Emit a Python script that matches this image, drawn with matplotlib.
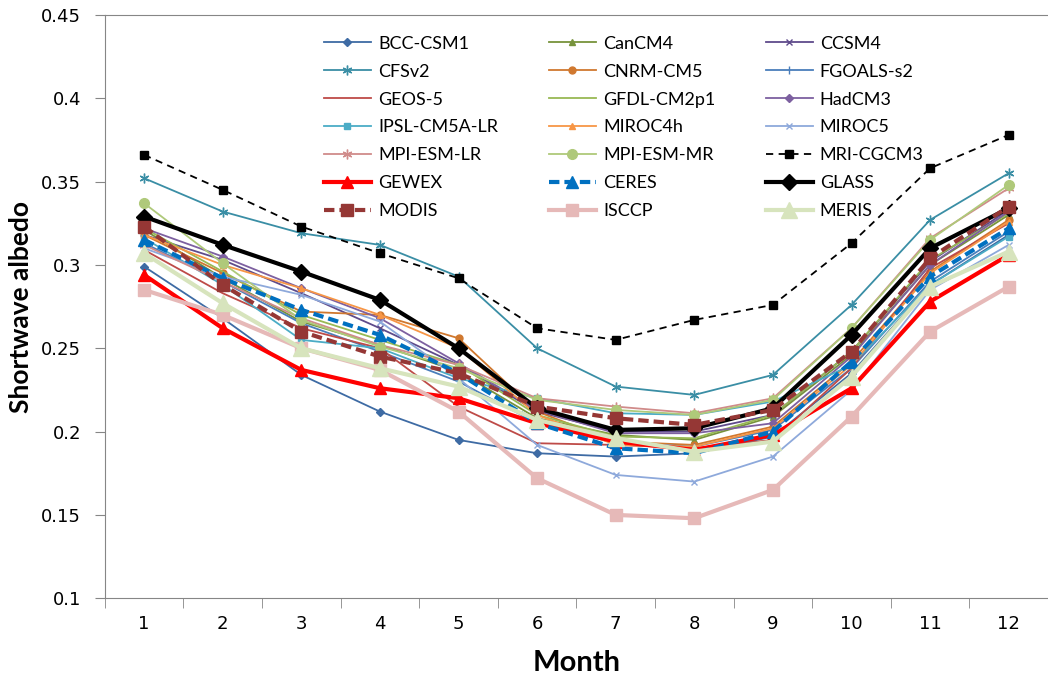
import matplotlib.pyplot as plt
from matplotlib.ticker import FixedLocator, NullFormatter

plt.rcParams["font.family"] = ["Lato", "DejaVu Sans"]

months = list(range(1, 13))

# monthly mean shortwave albedo, models first, then observation products
bcc_csm1 = [0.299, 0.268, 0.234, 0.212, 0.195, 0.187, 0.185, 0.187, 0.197, 0.235, 0.288, 0.318]
cancm4 = [0.321, 0.292, 0.266, 0.252, 0.236, 0.208, 0.198, 0.195, 0.209, 0.246, 0.300, 0.330]
ccsm4 = [0.318, 0.303, 0.283, 0.262, 0.240, 0.212, 0.200, 0.200, 0.210, 0.248, 0.302, 0.333]
cfsv2 = [0.352, 0.332, 0.319, 0.312, 0.293, 0.250, 0.227, 0.222, 0.234, 0.276, 0.327, 0.355]
cnrm_cm5 = [0.318, 0.295, 0.272, 0.270, 0.256, 0.212, 0.194, 0.192, 0.203, 0.242, 0.296, 0.327]
fgoals_s2 = [0.313, 0.290, 0.265, 0.248, 0.230, 0.205, 0.193, 0.191, 0.201, 0.238, 0.290, 0.320]
geos_5 = [0.309, 0.283, 0.262, 0.250, 0.215, 0.193, 0.192, 0.190, 0.195, 0.238, 0.298, 0.325]
gfdl_cm2p1 = [0.322, 0.296, 0.270, 0.255, 0.240, 0.210, 0.197, 0.196, 0.210, 0.248, 0.303, 0.331]
hadcm3 = [0.322, 0.305, 0.286, 0.268, 0.241, 0.213, 0.199, 0.199, 0.205, 0.245, 0.300, 0.332]
ipsl_cm5a_lr = [0.316, 0.288, 0.255, 0.250, 0.232, 0.220, 0.211, 0.210, 0.218, 0.240, 0.288, 0.317]
miroc4h = [0.318, 0.300, 0.286, 0.270, 0.250, 0.210, 0.192, 0.191, 0.202, 0.240, 0.295, 0.326]
miroc5 = [0.310, 0.293, 0.282, 0.266, 0.232, 0.192, 0.174, 0.170, 0.185, 0.225, 0.285, 0.312]
mpi_esm_lr = [0.312, 0.290, 0.268, 0.252, 0.240, 0.220, 0.215, 0.211, 0.220, 0.262, 0.316, 0.346]
mpi_esm_mr = [0.337, 0.301, 0.267, 0.251, 0.238, 0.219, 0.213, 0.210, 0.219, 0.262, 0.315, 0.348]
mri_cgcm3 = [0.366, 0.345, 0.323, 0.307, 0.292, 0.262, 0.255, 0.267, 0.276, 0.313, 0.358, 0.378]
gewex = [0.294, 0.262, 0.237, 0.226, 0.220, 0.205, 0.194, 0.189, 0.198, 0.226, 0.278, 0.306]
ceres = [0.315, 0.292, 0.273, 0.258, 0.235, 0.205, 0.190, 0.187, 0.200, 0.242, 0.293, 0.322]
glass = [0.329, 0.312, 0.296, 0.279, 0.250, 0.214, 0.201, 0.202, 0.214, 0.258, 0.310, 0.334]
modis = [0.323, 0.288, 0.260, 0.245, 0.235, 0.215, 0.208, 0.204, 0.213, 0.248, 0.304, 0.335]
isccp = [0.285, 0.270, 0.250, 0.237, 0.212, 0.172, 0.150, 0.148, 0.165, 0.209, 0.260, 0.287]
meris = [0.307, 0.277, 0.250, 0.238, 0.227, 0.207, 0.196, 0.188, 0.194, 0.233, 0.287, 0.308]

star = (6, 2, 0)

# (label, values, color, marker, markersize, linestyle, linewidth)
series = [
    ("BCC-CSM1", bcc_csm1, "#3E6BA4", "D", 4, "-", 1.3),
    ("CanCM4", cancm4, "#77933C", "^", 5, "-", 1.3),
    ("CCSM4", ccsm4, "#5F4B8B", "x", 5, "-", 1.3),
    ("CFSv2", cfsv2, "#3A8EA5", star, 7, "-", 1.3),
    ("CNRM-CM5", cnrm_cm5, "#D0782F", "o", 5, "-", 1.3),
    ("FGOALS-s2", fgoals_s2, "#4A7EBB", "|", 6, "-", 1.3),
    ("GEOS-5", geos_5, "#BE4B48", None, 0, "-", 1.3),
    ("GFDL-CM2p1", gfdl_cm2p1, "#98B954", None, 0, "-", 1.3),
    ("HadCM3", hadcm3, "#7D60A0", "D", 4, "-", 1.3),
    ("IPSL-CM5A-LR", ipsl_cm5a_lr, "#4BACC6", "s", 5, "-", 1.3),
    ("MIROC4h", miroc4h, "#F79646", "^", 5, "-", 1.3),
    ("MIROC5", miroc5, "#8EA9DB", "x", 5, "-", 1.3),
    ("MPI-ESM-LR", mpi_esm_lr, "#D08B8A", star, 7, "-", 1.3),
    ("MPI-ESM-MR", mpi_esm_mr, "#AFC97A", "o", 7, "-", 1.3),
    ("MRI-CGCM3", mri_cgcm3, "black", "s", 6, (0, (4, 3)), 1.3),
    ("GEWEX", gewex, "#FF0000", "^", 8, "-", 3),
    ("CERES", ceres, "#0070C0", "^", 8, (0, (2.5, 1.2)), 3),
    ("GLASS", glass, "black", "D", 8, "-", 3),
    ("MODIS", modis, "#953735", "s", 9, (0, (2.5, 1.2)), 3),
    ("ISCCP", isccp, "#E6B9B8", "s", 9, "-", 3),
    ("MERIS", meris, "#D7E4BD", "^", 12, "-", 3),
]

fig = plt.figure(figsize=(10.48, 6.76), dpi=100)
ax = fig.add_axes([0.1, 0.115, 0.9, 0.863])

handles = []
for label, values, color, marker, ms, ls, lw in series:
    line, = ax.plot(months, values, color=color, marker=marker, markersize=ms,
                    linestyle=ls, linewidth=lw, label=label,
                    markeredgecolor=color, markerfacecolor=color)
    handles.append(line)

ax.set_xlim(0.5, 12.5)
ax.set_ylim(0.1, 0.45)
ax.set_xticks(months)
ax.set_xticklabels([str(m) for m in months], family="DejaVu Sans")
ax.xaxis.set_minor_locator(FixedLocator([m + 0.5 for m in range(0, 13)]))
ax.xaxis.set_minor_formatter(NullFormatter())
ax.tick_params(axis="x", which="major", length=0, labelsize=13, pad=12)
ax.tick_params(axis="x", which="minor", length=7, color="#868686")
ax.set_yticks([0.1, 0.15, 0.2, 0.25, 0.3, 0.35, 0.4, 0.45])
ax.set_yticklabels(["0.1", "0.15", "0.2", "0.25", "0.3", "0.35", "0.4", "0.45"],
                   family="DejaVu Sans")
ax.tick_params(axis="y", length=7, color="#868686", labelsize=13, pad=10)

for side in ["left", "bottom", "top"]:
    ax.spines[side].set_color("#868686")
ax.spines["right"].set_visible(False)

ax.set_xlabel("Month", fontsize=21, fontweight="bold", labelpad=12)
ax.set_ylabel("Shortwave albedo", fontsize=19, fontweight="bold", labelpad=6)

# legend reads row by row, three entries per row
order = [i for c in range(3) for i in range(c, len(handles), 3)]
ax.legend([handles[i] for i in order], [series[i][0] for i in order],
          ncol=3, loc="upper left", bbox_to_anchor=(0.219, 0.986),
          frameon=False, fontsize=13, handlelength=2.6, handletextpad=0.4,
          columnspacing=2.8, labelspacing=0.66, borderaxespad=0.3)

fig.savefig("out.png", dpi=100)
